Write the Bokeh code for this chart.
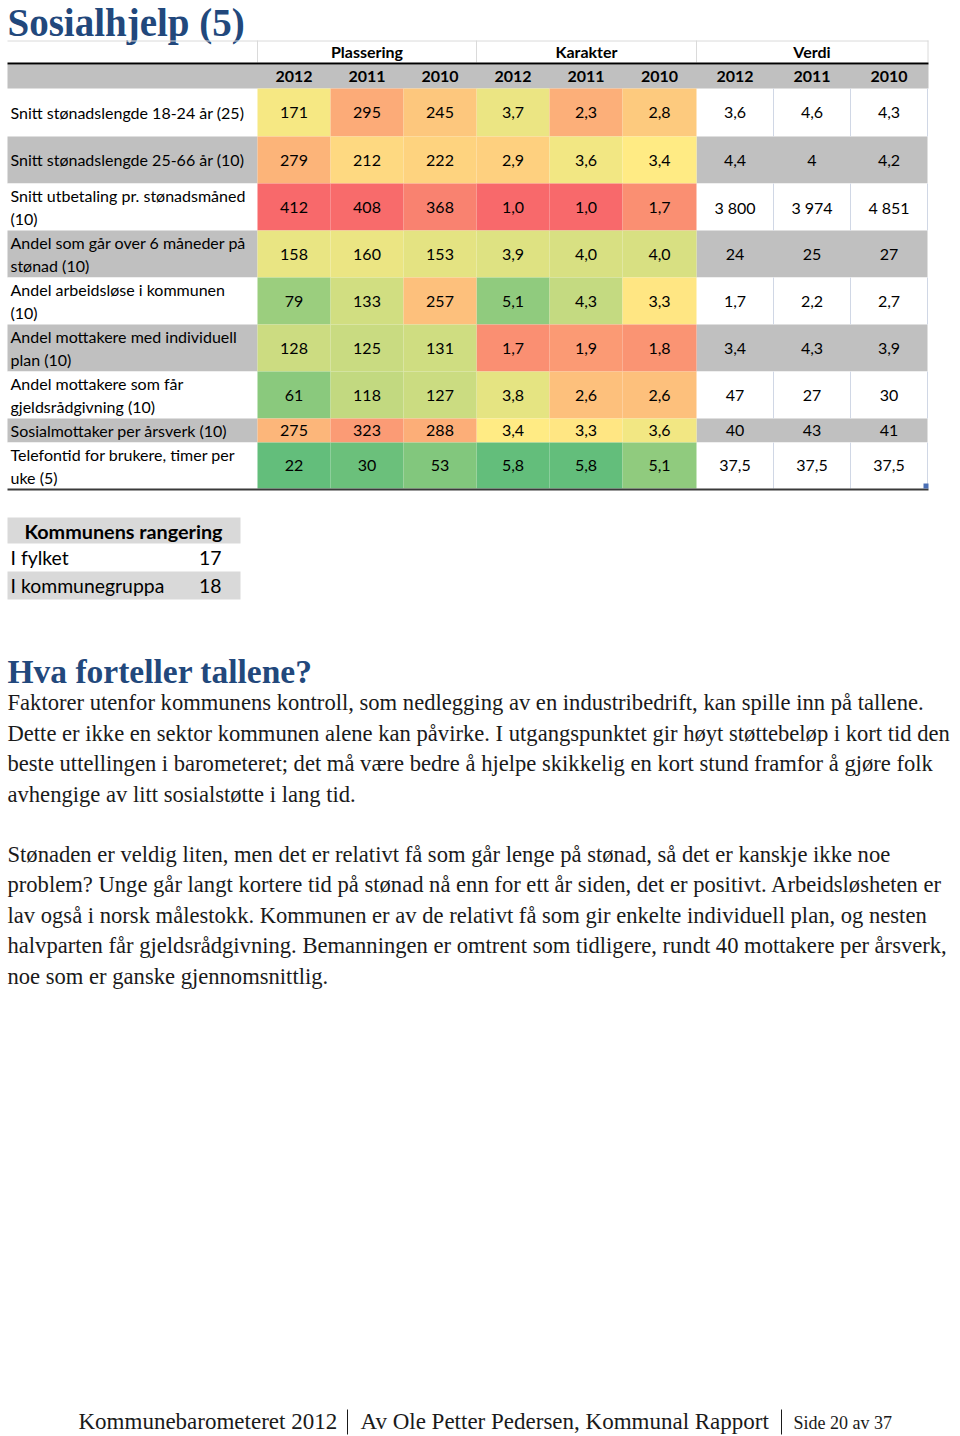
from bokeh.plotting import figure
from bokeh.models import ColumnDataSource, Range1d
from bokeh.core.properties import value
from bokeh.embed import file_html
from bokeh.resources import INLINE

# ---------------- data ----------------
page_title = "Sosialhjelp  (5)"
groups = ["Plassering", "Karakter", "Verdi"]
years = ["2012", "2011", "2010"]
row_labels = [
    ["Snitt stønadslengde 18-24 år (25)"],
    ["Snitt stønadslengde 25-66 år (10)"],
    ["Snitt utbetaling pr. stønadsmåned", "(10)"],
    ["Andel som går over 6 måneder på", "stønad (10)"],
    ["Andel arbeidsløse i kommunen", "(10)"],
    ["Andel mottakere med individuell", "plan (10)"],
    ["Andel mottakere som får", "gjeldsrådgivning (10)"],
    ["Sosialmottaker per årsverk (10)"],
    ["Telefontid for brukere, timer per", "uke (5)"],
]
plassering = [
    [171, 295, 245],
    [279, 212, 222],
    [412, 408, 368],
    [158, 160, 153],
    [79, 133, 257],
    [128, 125, 131],
    [61, 118, 127],
    [275, 323, 288],
    [22, 30, 53],
]
karakter = [
    [3.7, 2.3, 2.8],
    [2.9, 3.6, 3.4],
    [1.0, 1.0, 1.7],
    [3.9, 4.0, 4.0],
    [5.1, 4.3, 3.3],
    [1.7, 1.9, 1.8],
    [3.8, 2.6, 2.6],
    [3.4, 3.3, 3.6],
    [5.8, 5.8, 5.1],
]
verdi = [
    [3.6, 4.6, 4.3],
    [4.4, 4, 4.2],
    [3800, 3974, 4851],
    [24, 25, 27],
    [1.7, 2.2, 2.7],
    [3.4, 4.3, 3.9],
    [47, 27, 30],
    [40, 43, 41],
    [37.5, 37.5, 37.5],
]
rank_title = "Kommunens rangering"
rank_labels = ["I fylket", "I kommunegruppa"]
rank_values = [17, 18]

section_title = "Hva forteller tallene?"
paragraph1 = [
    "Faktorer utenfor kommunens kontroll, som nedlegging av en industribedrift, kan spille inn på tallene.",
    "Dette er ikke en sektor kommunen alene kan påvirke. I utgangspunktet gir høyt støttebeløp i kort tid den",
    "beste uttellingen i barometeret; det må være bedre å hjelpe skikkelig en kort stund framfor å gjøre folk",
    "avhengige av litt sosialstøtte i lang tid.",
]
paragraph2 = [
    "Stønaden er veldig liten, men det er relativt få som går lenge på stønad, så det er kanskje ikke noe",
    "problem? Unge går langt kortere tid på stønad nå enn for ett år siden, det er positivt. Arbeidsløsheten er",
    "lav også i norsk målestokk. Kommunen er av de relativt få som gir enkelte individuell plan, og nesten",
    "halvparten får gjeldsrådgivning. Bemanningen er omtrent som tidligere, rundt 40 mottakere per årsverk,",
    "noe som er ganske gjennomsnittlig.",
]
footer_parts = ["Kommunebarometeret 2012", "Av Ole Petter Pedersen, Kommunal Rapport", "Side 20 av 37"]

# ---------------- style / layout ----------------
W, H = 960, 1436
SANS = "Lato"
SERIF = "Liberation Serif"
HEAD = "Liberation Serif"
BLUE = "#22487C"
GRAY = "#C0C0C0"
LGRAY = "#D9D9D9"
RED = (248, 105, 107)
YEL = (255, 235, 132)
GRN = (99, 190, 123)

X0, XR = 7, 928
col_edges = [257, 330, 403, 476, 549, 622, 696, 773, 850, 927]
row_edges = [88, 136, 183, 230, 277, 324, 371, 418, 442, 488]


def mix(a, b, t):
    t = max(0.0, min(1.0, t))
    return "#%02x%02x%02x" % tuple(int(round(a[i] + (b[i] - a[i]) * t)) for i in range(3))


def scale3(v, lo, mid, hi, high_good):
    # Excel-like 3 colour scale
    if high_good:
        if v >= mid:
            return mix(YEL, GRN, (v - mid) / (hi - mid))
        return mix(YEL, RED, (mid - v) / (mid - lo))
    if v <= mid:
        return mix(YEL, GRN, (mid - v) / (mid - lo))
    return mix(YEL, RED, (v - mid) / (hi - mid))


def fmt_dec(v):
    return ("%.1f" % v).replace(".", ",")


def fmt_verdi(v):
    if float(v).is_integer():
        iv = int(v)
        if iv >= 1000:
            return "{:,}".format(iv).replace(",", " ")
        return str(iv)
    return fmt_dec(v)


p = figure(width=W, height=H, x_range=Range1d(0, W), y_range=Range1d(H, 0),
           output_backend="svg", toolbar_location=None, min_border=0,
           x_axis_type=None, y_axis_type=None)
p.grid.visible = False
p.outline_line_color = None
p.background_fill_color = "white"
p.border_fill_color = "white"


def add_text(xs, ys, texts, font, size, color="black", style="normal", align="left", baseline="middle"):
    src = ColumnDataSource(dict(x=xs, y=ys, t=texts))
    p.text(x="x", y="y", text="t", source=src, text_font=value(font), text_font_size=value(size),
           text_color=color, text_font_style=style, text_align=align, text_baseline=baseline)


# title
add_text([7], [22], [page_title], HEAD, "39px", BLUE, "bold")

# ---- table backgrounds ----
nrows = len(row_labels)
shade = [GRAY if i % 2 == 1 else "white" for i in range(nrows)]

ql, qr, qb, qt, qc = [], [], [], [], []
for i in range(nrows):
    ql += [X0, col_edges[6]]
    qr += [col_edges[0], col_edges[9]]
    qt += [row_edges[i]] * 2
    qb += [row_edges[i + 1]] * 2
    qc += [shade[i]] * 2
ql.append(X0); qr.append(XR); qt.append(64); qb.append(88); qc.append(GRAY)
p.quad(left=ql, right=qr, top=qt, bottom=qb, fill_color=qc, line_color=None)

# heat cells
hl, hr, ht, hb, hc = [], [], [], [], []
pl_flat = [v for r in plassering for v in r]
ka_flat = [v for r in karakter for v in r]
PL_MID = 180
KA_MID = sorted(ka_flat)[len(ka_flat) // 2]
for i in range(nrows):
    for j in range(3):
        hl.append(col_edges[j]); hr.append(col_edges[j + 1])
        ht.append(row_edges[i]); hb.append(row_edges[i + 1])
        hc.append(scale3(plassering[i][j], min(pl_flat), PL_MID, max(pl_flat), False))
        hl.append(col_edges[3 + j]); hr.append(col_edges[4 + j])
        ht.append(row_edges[i]); hb.append(row_edges[i + 1])
        hc.append(scale3(karakter[i][j], min(ka_flat), KA_MID, max(ka_flat), True))
p.quad(left=hl, right=hr, top=ht, bottom=hb, fill_color=hc, line_color=None)

# verdi white-row separators
sx0, sy0, sx1, sy1 = [], [], [], []
for i in range(nrows):
    if shade[i] == "white":
        for x in col_edges[7:10]:
            sx0.append(x); sx1.append(x); sy0.append(row_edges[i]); sy1.append(row_edges[i + 1])
p.segment(x0=sx0, y0=sy0, x1=sx1, y1=sy1, line_color="#D0D7E5", line_width=1)

# header borders
p.segment(x0=[X0], y0=[40.5], x1=[XR], y1=[40.5], line_color="#DADADA", line_width=1)
p.segment(x0=[257, 476, 696, 927.5], y0=[40] * 4, x1=[257, 476, 696, 927.5], y1=[62] * 4,
          line_color="#DADADA", line_width=1)
p.segment(x0=[X0], y0=[63], x1=[XR], y1=[63], line_color="black", line_width=2.2)
p.segment(x0=[X0], y0=[489], x1=[XR], y1=[489], line_color="#3A3A3A", line_width=2.2)
p.quad(left=[923], right=[928], top=[483], bottom=[488], fill_color="#4A6FB5", line_color=None)

# header texts
gx = [(col_edges[0] + col_edges[3]) / 2, (col_edges[3] + col_edges[6]) / 2, (col_edges[6] + col_edges[9]) / 2]
add_text(gx, [51] * 3, groups, SANS, "16px", "black", "bold", "center")
yx = [(col_edges[k] + col_edges[k + 1]) / 2 for k in range(9)]
add_text(yx, [75.5] * 9, years * 3, SANS, "16px", "black", "bold", "center")

# row labels
lx, ly, lt = [], [], []
for i, lines in enumerate(row_labels):
    top, bot = row_edges[i], row_edges[i + 1]
    if len(lines) == 1:
        lx.append(10); ly.append((top + bot) / 2 - 0.5); lt.append(lines[0])
    else:
        lx += [10, 10]; ly += [top + 12, top + 35]; lt += lines
add_text(lx, ly, lt, SANS, "16px", "black")

# cell values
vx, vy, vt = [], [], []
for i in range(nrows):
    cy = (row_edges[i] + row_edges[i + 1]) / 2
    for j in range(3):
        vx.append(yx[j]); vy.append(cy); vt.append(str(plassering[i][j]))
        vx.append(yx[3 + j]); vy.append(cy); vt.append(fmt_dec(karakter[i][j]))
        vx.append(yx[6 + j]); vy.append(cy); vt.append(fmt_verdi(verdi[i][j]))
add_text(vx, vy, vt, SANS, "16px", "black", align="center")

# ---- ranking box ----
p.quad(left=[7, 7], right=[240, 240], top=[517, 571], bottom=[543, 599], fill_color=LGRAY, line_color=None)
add_text([123], [530], [rank_title], SANS, "19.8px", "black", "bold", "center")
add_text([10, 10], [557, 585], rank_labels, SANS, "19.4px", "black")
add_text([221, 221], [557, 585], [str(v) for v in rank_values], SANS, "19.4px", "black", align="right")

# ---- text section ----
add_text([7], [671], [section_title], HEAD, "33.5px", BLUE, "bold")
add_text([7] * len(paragraph1), [702 + 30.5 * k for k in range(len(paragraph1))], paragraph1,
         SERIF, "22.6px", "#1A1A1A")
add_text([7] * len(paragraph2), [854 + 30.4 * k for k in range(len(paragraph2))], paragraph2,
         SERIF, "22.6px", "#1A1A1A")

# footer
add_text([78, 360], [1421, 1421], footer_parts[:2], SERIF, "23px", "#1A1A1A")
add_text([793], [1422], footer_parts[2:], SERIF, "18px", "#1A1A1A")
p.segment(x0=[347, 781], y0=[1409, 1409], x1=[347, 781], y1=[1434, 1434], line_color="#1A1A1A", line_width=1)

open("out.html", "w").write(file_html(p, INLINE))
